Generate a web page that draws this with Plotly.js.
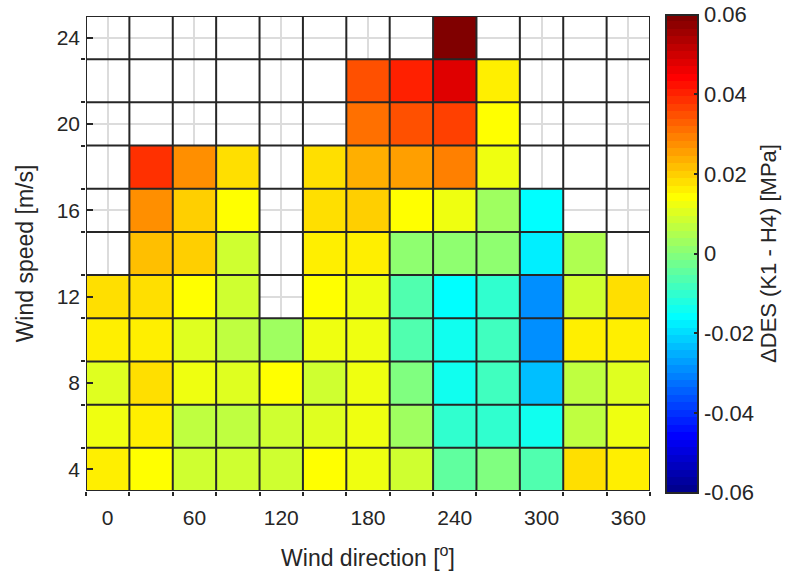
<!DOCTYPE html>
<html>
<head>
<meta charset="utf-8">
<script src="https://cdn.plot.ly/plotly-3.0.1.min.js"></script>
<style>html,body{margin:0;padding:0;background:#fff;}#chart{width:795px;height:574px;}</style>
</head>
<body>
<div id="chart"></div>
<script>
// Wind direction bins [deg] (columns) and wind speed bins [m/s] (rows)
const directions = [0, 30, 60, 90, 120, 150, 180, 210, 240, 270, 300, 330, 360];
const speeds = [4, 6, 8, 10, 12, 14, 16, 18, 20, 22, 24];

// ΔDES (K1 - H4) [MPa], one row per wind speed (bottom to top); null = no data
const des4  = [0.0159, 0.0141, 0.0084, 0.0084, 0.0084, 0.0141, 0.0122, 0.0084, -0.0047, -0.0009, -0.0066, 0.0178, 0.0159];
const des6  = [0.0122, 0.0159, 0.0066, 0.0066, 0.0084, 0.0103, 0.0122, 0.0028, -0.0103, -0.0103, -0.0141, 0.0066, 0.0122];
const des8  = [0.0103, 0.0178, 0.0122, 0.0103, 0.0141, 0.0084, 0.0122, -0.0009, -0.0141, -0.0084, -0.0234, 0.0066, 0.0103];
const des10 = [0.0159, 0.0159, 0.0103, 0.0066, 0.0028, 0.0122, 0.0122, -0.0066, -0.0141, -0.0084, -0.0291, 0.0159, 0.0159];
const des12 = [0.0178, 0.0178, 0.0141, 0.0084, null, 0.0141, 0.0122, -0.0066, -0.0159, -0.0103, -0.0291, 0.0084, 0.0178];
const des14 = [null, 0.0216, 0.0197, 0.0084, null, 0.0159, 0.0159, 0.0009, 0.0009, 0.0009, -0.0178, 0.0047, null];
const des16 = [null, 0.0272, 0.0197, 0.0141, null, 0.0178, 0.0197, 0.0141, 0.0122, 0.0028, -0.0159, null, null];
const des18 = [null, 0.0384, 0.0272, 0.0178, null, 0.0178, 0.0234, 0.0253, 0.0291, 0.0122, null, null, null];
const des20 = [null, null, null, null, null, null, 0.0309, 0.0347, 0.0366, 0.0141, null, null, null];
const des22 = [null, null, null, null, null, null, 0.0347, 0.0403, 0.0478, 0.0159, null, null, null];
const des24 = [null, null, null, null, null, null, null, null, 0.0591, null, null, null, null];

const xTicks = [0, 60, 120, 180, 240, 300, 360];
const yTicks = [4, 8, 12, 16, 20, 24];
const cbTicks = [-0.06, -0.04, -0.02, 0, 0.02, 0.04, 0.06];
const cbTickText = ['-0.06', '-0.04', '-0.02', '0', '0.02', '0.04', '0.06'];

const z = [des4, des6, des8, des10, des12, des14, des16, des18, des20, des22, des24];

// MATLAB-style jet colormap with 64 discrete levels
function jetColorscale(m) {
  const n = Math.ceil(m / 4);
  const u = [];
  for (let i = 1; i <= n; i++) u.push(i / n);
  for (let i = 0; i < n - 1; i++) u.push(1);
  for (let i = n; i >= 1; i--) u.push(i / n);
  const J = [];
  for (let i = 0; i < m; i++) J.push([0, 0, 0]);
  const gStart = Math.ceil(n / 2) - (m % 4 === 1 ? 1 : 0);
  for (let k = 0; k < u.length; k++) {
    const g = gStart + k + 1, r = g + n, b = g - n;
    if (r <= m) J[r - 1][0] = u[k];
    if (g <= m) J[g - 1][1] = u[k];
    if (b >= 1) J[b - 1][2] = u[k];
  }
  const scale = [];
  for (let i = 0; i < m; i++) {
    const c = 'rgb(' + J[i].map(v => Math.round(v * 255)).join(',') + ')';
    scale.push([i / m, c]);
    scale.push([(i + 1) / m, c]);
  }
  return scale;
}
const jet = jetColorscale(64);

const dx = directions[1] - directions[0];
const dy = speeds[1] - speeds[0];
const x0 = directions[0] - dx / 2, x1 = directions[directions.length - 1] + dx / 2;
const y0 = speeds[0] - dy / 2, y1 = speeds[speeds.length - 1] + dy / 2;
const xEdges = [], yEdges = [];
for (let i = 0; i <= directions.length; i++) xEdges.push(x0 + i * dx);
for (let j = 0; j <= speeds.length; j++) yEdges.push(y0 + j * dy);

const border = {color: '#262626', width: 2};
const shapes = [];
xEdges.forEach(xb => shapes.push({type: 'line', xref: 'x', yref: 'y', x0: xb, x1: xb, y0: y0, y1: y1, line: border, layer: 'above'}));
yEdges.forEach(yb => shapes.push({type: 'line', xref: 'x', yref: 'y', x0: x0, x1: x1, y0: yb, y1: yb, line: border, layer: 'above'}));

const fam = 'Liberation Sans, Arial, Helvetica, sans-serif';
const tickFont = {family: fam, size: 21, color: '#262626'};
const titleFont = {family: fam, size: 23, color: '#262626'};

const trace = {
  type: 'heatmap',
  x: directions,
  y: speeds,
  z: z,
  zmin: -0.06,
  zmax: 0.06,
  colorscale: jet,
  hoverongaps: false,
  colorbar: {
    x: 1.028, xanchor: 'left', xref: 'paper', xpad: 0,
    y: 0.5, yanchor: 'middle', ypad: 0,
    len: 478, lenmode: 'pixels',
    thickness: 32,
    outlinewidth: 2, outlinecolor: '#262626',
    ticks: 'inside', ticklen: 5, tickwidth: 2, tickcolor: '#262626',
    tickvals: cbTicks, ticktext: cbTickText,
    tickfont: {family: fam, size: 22, color: '#262626'},
    title: {text: 'ΔDES (K1 - H4) [MPa]', side: 'right', font: {family: fam, size: 22, color: '#262626'}}
  }
};

const layout = {
  width: 795, height: 574,
  margin: {l: 86, r: 145, t: 16, b: 83, autoexpand: false},
  paper_bgcolor: '#ffffff',
  plot_bgcolor: '#ffffff',
  font: tickFont,
  showlegend: false,
  xaxis: {
    range: [x0, x1],
    tickmode: 'array', tickvals: xTicks, ticktext: xTicks.map(String),
    ticks: '', showgrid: true, gridcolor: '#dcdcdc', gridwidth: 2,
    ticklabelstandoff: 12,
    minor: {tickmode: 'array', tickvals: xEdges, ticks: 'outside', ticklen: 4, tickwidth: 2, tickcolor: '#262626', showgrid: false},
    zeroline: false, showline: false,
    tickfont: tickFont,
    title: {text: 'Wind direction [<sup>o</sup>]', font: titleFont, standoff: 21}
  },
  yaxis: {
    range: [y0, y1],
    tickmode: 'array', tickvals: yTicks, ticktext: yTicks.map(String),
    ticks: 'inside', ticklen: 7, tickwidth: 2, tickcolor: '#262626',
    ticklabelstandoff: 5,
    minor: {tickmode: 'array', tickvals: yEdges, ticks: 'outside', ticklen: 4, tickwidth: 2, tickcolor: '#262626', showgrid: false},
    showgrid: true, gridcolor: '#dcdcdc', gridwidth: 2,
    zeroline: false, showline: false,
    tickfont: tickFont, layer: 'above traces',
    title: {text: 'Wind speed [m/s]', font: titleFont, standoff: 16}
  },
  shapes: shapes
};

Plotly.newPlot('chart', [trace], layout, {displayModeBar: false, staticPlot: true});
</script>
</body>
</html>
